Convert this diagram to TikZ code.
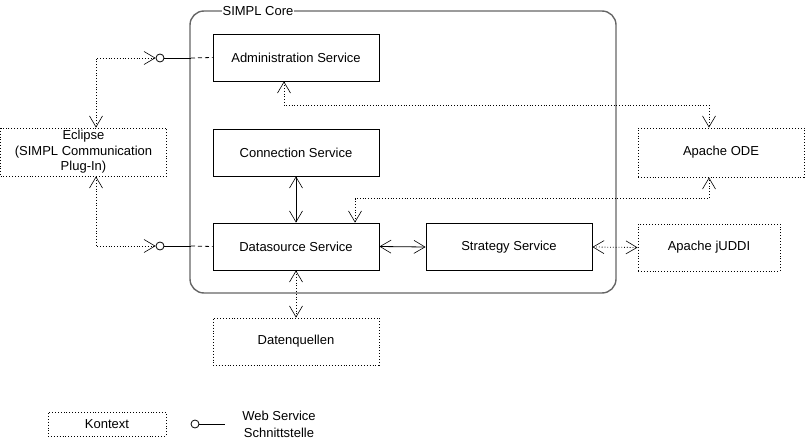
\documentclass[tikz,border=0pt]{standalone}
\usepackage{fontspec}
\setmainfont{Liberation Sans}
\usepackage{tikz}
\usetikzlibrary{arrows.meta,calc}
\definecolor{line}{HTML}{000000}
\definecolor{frame}{HTML}{666666}
\tikzset{
  >={Straight Barb[length=11pt,width=13pt,line width=0.6pt]},
  svc/.style={draw=line, line width=0.9pt, minimum width=166pt, minimum height=47pt, inner sep=0pt},
  ctx/.style={draw=line, dotted, line width=0.9pt, inner sep=0pt, align=center},
  core/.style={draw=frame, line width=1.4pt, rounded corners=14pt},
  link/.style={draw=line, line width=0.8pt, <->},
  dlink/.style={link, dotted},
  iface/.style={draw=line, line width=0.8pt, fill=white, circle, inner sep=0pt, minimum size=8pt},
  every node/.style={font=\fontsize{13}{15.5}\selectfont}
}

\begin{document}
\begin{tikzpicture}[x=1pt,y=-1pt]
  \useasboundingbox (0,0) rectangle (805,441);

  % core frame
  \draw[core] (190,11) rectangle (616,293);
  \node[fill=white, inner sep=1pt] (corelab) at (258,11) {SIMPL Core};

  \node[svc] (admin) at (296,57.5) {Administration Service};
  \node[svc] (conn) at (296,152.5) {Connection Service};
  \node[svc] (data) at (296,246.5) {Datasource Service};
  \node[svc] (strat) at (509,247) {Strategy Service};

  \node[ctx, minimum width=166pt, minimum height=49pt] (ode) at (721,152.5) {Apache ODE};
  \node[ctx, minimum width=142pt, minimum height=47pt] (juddi) at (709,247.5) {Apache jUDDI};
  \node[ctx, minimum width=166pt, minimum height=48pt] (eclipse) at (83.5,152) {Eclipse\\(SIMPL Communication\\Plug-In)};
  \node[ctx, minimum width=166pt, minimum height=47pt] (dq) at (296,341.5) {Datenquellen};

  % interfaces
  \node[iface] (ifa) at (160,58) {};
  \node[iface] (ifd) at (160,246) {};
  \coordinate (ifaend) at (191,58);
  \coordinate (ifdend) at (191,246);
  \draw[line width=0.8pt] (ifa) -- (ifaend);
  \draw[line width=0.8pt, dash pattern=on 4pt off 3pt] (ifaend) -- (admin.west);
  \draw[line width=0.8pt] (ifd) -- (ifdend);
  \draw[line width=0.8pt, dash pattern=on 4pt off 3pt] (ifdend) -- (data.west);

  \draw[dlink] (eclipse.north -| 96,0) |- (ifa.west);
  \draw[dlink] (eclipse.south -| 96,0) |- (ifd.west);

  \draw[dlink] (admin.south -| 284,0) -- ++(0,24) -| (ode.north -| 709,0);
  \draw[dlink] (data.north -| 355,0) -- ++(0,-24) -| (ode.south -| 709,0);

  \draw[link] (conn.south) -- (data.north);
  \draw[link] (data.east) -- (strat.west);
  \draw[dlink] (strat.east) -- (juddi.west);
  \draw[dlink] (data.south) -- (dq.north);

  % legend
  \node[ctx, minimum width=118pt, minimum height=24pt] (kontext) at (107,424) {Kontext};
  \node[iface] (ifleg) at (195,424) {};
  \coordinate (iflegend) at (225,424);
  \draw[line width=0.8pt] (ifleg) -- (iflegend);
  \node[align=center, font=\fontsize{13}{17}\selectfont] (wslab) at (279,424) {Web Service\\Schnittstelle};
\end{tikzpicture}
\end{document}
